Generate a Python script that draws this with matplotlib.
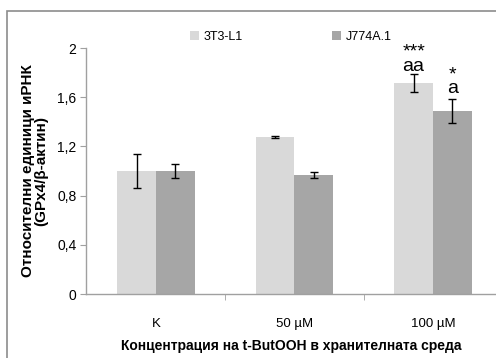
import matplotlib.pyplot as plt
import numpy as np
from matplotlib.patches import Rectangle

categories = ['K', '50 µM', '100 µM']
series_names = ['3T3-L1', 'J774A.1']
means_3t3 = [1.00, 1.276, 1.715]
err_3t3 = [0.138, 0.010, 0.072]
means_j774 = [1.00, 0.967, 1.488]
err_j774 = [0.055, 0.025, 0.095]
marks_3t3 = ['', '', '***\naa']
marks_j774 = ['', '', '*\na']
yticks = [0, 0.4, 0.8, 1.2, 1.6, 2]
ytick_labels = ['0', '0,4', '0,8', '1,2', '1,6', '2']

regular = ['Liberation Sans', 'DejaVu Sans']

fig = plt.figure(figsize=(4.96, 3.58), dpi=100)
# outer chart frame (runs off the right and bottom edges)
fig.patches.append(Rectangle((7 / 496, -0.1), 1.2, 1 - 11 / 358 + 0.1,
                             transform=fig.transFigure, fill=False,
                             edgecolor='#8c8c8c', linewidth=1.2))

ax = fig.add_axes([86 / 496, 1 - 294 / 358, (496 - 86) / 496, (294 - 48) / 358])

x = np.arange(len(categories))
w = 0.28
ekw = dict(ecolor='black', elinewidth=1.0, capsize=3, capthick=1.0)
ax.bar(x - w / 2, means_3t3, w, yerr=err_3t3, color='#d9d9d9', label=series_names[0], error_kw=ekw)
ax.bar(x + w / 2, means_j774, w, yerr=err_j774, color='#a6a6a6', label=series_names[1], error_kw=ekw)

# significance marks above the error bars
for i in range(len(categories)):
    if marks_3t3[i]:
        ax.text(x[i] - w / 2, means_3t3[i] + err_3t3[i] - 0.005, marks_3t3[i], ha='center', va='bottom',
                fontsize=14, family=regular, linespacing=0.8)
    if marks_j774[i]:
        ax.text(x[i] + w / 2, means_j774[i] + err_j774[i] + 0.015, marks_j774[i], ha='center', va='bottom',
                fontsize=14, family=regular, linespacing=0.8)

ax.set_xlim(-0.505, (496 - 156) / 138.5)
ax.set_ylim(0, 2)
ax.set_yticks(yticks)
ax.set_yticklabels(ytick_labels, family=regular, fontsize=10)
ax.set_xticks(x)
ax.set_xticklabels(categories, family=regular, fontsize=9.5)
ax.tick_params(axis='x', length=0, pad=17)
ax.set_xticks([0.5, 1.5], minor=True)
ax.tick_params(axis='x', which='minor', length=4, color='#a0a0a0', direction='out')
ax.tick_params(axis='y', length=4, color='#a0a0a0', pad=3)

for side in ['top', 'right']:
    ax.spines[side].set_visible(False)
for side in ['left', 'bottom']:
    ax.spines[side].set_color('#a0a0a0')
    ax.spines[side].set_linewidth(1.0)

ax.set_ylabel('Относителни единици иРНК\n(GPx4/β-актин)', fontsize=11, fontweight='bold',
              family=regular, linespacing=1.0, labelpad=6)
ax.set_xlabel('Концентрация на t-ButOOH в хранителната среда', fontsize=10,
              fontweight='bold', family=regular, labelpad=7)

leg = fig.legend(loc='center', bbox_to_anchor=(291 / 496, 1 - 37 / 358), ncol=2,
                 frameon=False, prop={'family': regular, 'size': 9},
                 handlelength=0.7, handleheight=0.7, handletextpad=0.4, columnspacing=7.1)

fig.savefig('out.png', dpi=100)
